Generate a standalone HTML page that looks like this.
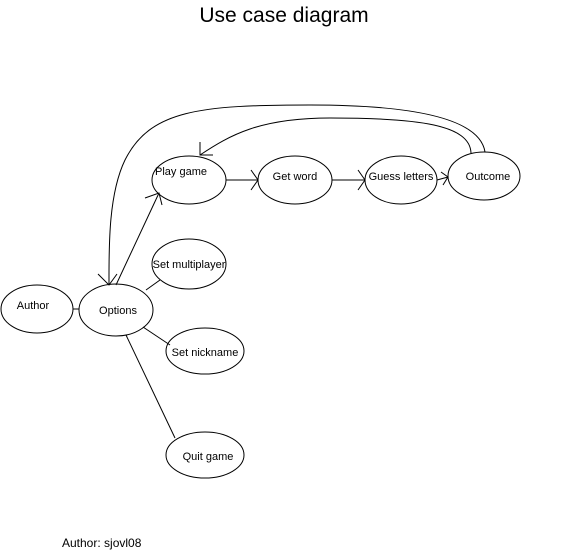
<!DOCTYPE html>
<html><head><meta charset="utf-8"><style>
html,body{margin:0;padding:0;background:#fff;}
svg{display:block;}
text{font-family:"Liberation Sans",sans-serif;fill:#000;}
</style></head><body>
<svg width="568" height="553" viewBox="0 0 568 553" xmlns="http://www.w3.org/2000/svg">
<g fill="none" stroke="#000" stroke-width="1">
<ellipse cx="189" cy="180" rx="37" ry="24"/>
<ellipse cx="295" cy="180" rx="37" ry="24"/>
<ellipse cx="401" cy="180" rx="36" ry="24"/>
<ellipse cx="484" cy="176" rx="36" ry="24"/>
<ellipse cx="189" cy="264" rx="37" ry="25"/>
<ellipse cx="37" cy="309" rx="36" ry="24"/>
<ellipse cx="116" cy="310" rx="37" ry="26"/>
<ellipse cx="205" cy="351" rx="39" ry="23"/>
<ellipse cx="205" cy="455" rx="39" ry="23"/>
<line x1="73" y1="309" x2="79" y2="309"/>
<line x1="226" y1="180" x2="258" y2="180"/>
<polyline points="251,170 258,180 251,190"/>
<line x1="332" y1="180" x2="365" y2="180"/>
<polyline points="358,170 365,180 358,190"/>
<line x1="437" y1="180" x2="448" y2="177"/>
<polyline points="441,172 448,177 443,185"/>
<line x1="116" y1="285" x2="159" y2="193"/>
<polyline points="145,198 159,193 162,205"/>
<line x1="146" y1="290" x2="160" y2="280"/>
<line x1="143" y1="327" x2="170" y2="345"/>
<line x1="126" y1="335" x2="175" y2="438"/>
<path d="M485,152 C480,120 420,105 310,105 C200,105 150,110 125,160 C108,195 109,250 109,285"/>
<polyline points="98,274 109,285 117,274"/>
<path d="M471,153 C470,125 420,118 330,118 C260,118 230,135 200,155"/>
<polyline points="200,142 200,155 213,155"/>
</g>
<text x="284" y="22" font-size="21" text-anchor="middle">Use case diagram</text>
<text x="181" y="175" font-size="11" text-anchor="middle">Play game</text>
<text x="295" y="180" font-size="11" text-anchor="middle">Get word</text>
<text x="401" y="180" font-size="11" text-anchor="middle">Guess letters</text>
<text x="488" y="180" font-size="11" text-anchor="middle">Outcome</text>
<text x="189" y="268" font-size="11" text-anchor="middle">Set multiplayer</text>
<text x="33" y="309" font-size="11" text-anchor="middle">Author</text>
<text x="118" y="314" font-size="11" text-anchor="middle">Options</text>
<text x="205" y="356" font-size="11" text-anchor="middle">Set nickname</text>
<text x="208" y="460" font-size="11" text-anchor="middle">Quit game</text>
<text x="62" y="547" font-size="12">Author: sjovl08</text>
</svg>
</body></html>
